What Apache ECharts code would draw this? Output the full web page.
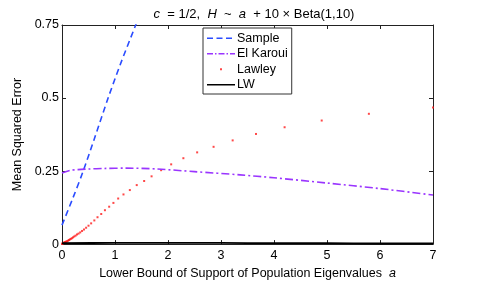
<!DOCTYPE html>
<html>
<head>
<meta charset="utf-8">
<script src="https://cdn.jsdelivr.net/npm/echarts@6/dist/echarts.min.js"></script>
<style>
html,body{margin:0;padding:0;background:#fff;}
#c{width:479px;height:285px;}
</style>
</head>
<body>
<div id="c"></div>
<script>
// ---- data ----
var xTicks = [0, 1, 2, 3, 4, 5, 6, 7];
var yTicks = [0, 0.25, 0.5, 0.75];

var sampleA = [0, 0.2, 0.4, 0.6, 0.87, 1.1, 1.39, 1.6];
var sampleV = [0.065, 0.155, 0.25, 0.355, 0.5, 0.615, 0.75, 0.85];

var elkA = [0, 0.15, 0.3, 0.5, 0.8, 1.2, 1.8, 2.5, 3.36, 4, 5, 6, 7];
var elkV = [0.243, 0.252, 0.255, 0.257, 0.259, 0.26, 0.257, 0.248, 0.237, 0.227, 0.209, 0.19, 0.168];

var lawleyA = [0, 0.01, 0.019, 0.029, 0.039, 0.05, 0.062, 0.074, 0.087, 0.101, 0.116, 0.132, 0.149, 0.167, 0.187, 0.208, 0.231, 0.256, 0.283, 0.312, 0.344, 0.378, 0.415, 0.455, 0.5, 0.55, 0.61, 0.67, 0.74, 0.81, 0.89, 0.97, 1.06, 1.16, 1.28, 1.41, 1.55, 1.69, 1.87, 2.06, 2.29, 2.55, 2.86, 3.22, 3.66, 4.2, 4.9, 5.79, 7];
var lawleyV = [0.001, 0.002, 0.003, 0.004, 0.005, 0.006, 0.007, 0.008, 0.009, 0.01, 0.012, 0.014, 0.016, 0.018, 0.02, 0.023, 0.026, 0.029, 0.033, 0.036, 0.04, 0.045, 0.05, 0.056, 0.063, 0.071, 0.081, 0.092, 0.103, 0.116, 0.128, 0.141, 0.156, 0.17, 0.185, 0.202, 0.216, 0.232, 0.253, 0.273, 0.294, 0.314, 0.333, 0.355, 0.377, 0.4, 0.423, 0.446, 0.468];

var lwA = [0, 1, 2, 3, 4, 5, 6, 7];
var lwV = [0.003, 0.004, 0.004, 0.004, 0.003, 0.003, 0.002, 0.002];

function pairs(a, v) { return a.map(function (x, i) { return [x, v[i]]; }); }

var FONT = 'Liberation Sans';
function svgIcon(inner) {
  return 'image://data:image/svg+xml;utf8,' + encodeURIComponent(
    '<svg xmlns="http://www.w3.org/2000/svg" width="28" height="10">' + inner + '</svg>');
}
var iconSample = svgIcon('<line x1="0" y1="5" x2="28" y2="5" stroke="#2a4cff" stroke-width="1.5" stroke-dasharray="6,3.5"/>');
var iconElk = svgIcon('<line x1="0" y1="5" x2="28" y2="5" stroke="#9a35ff" stroke-width="1.5" stroke-dasharray="6,2,1.5,2"/>');
var iconLawley = svgIcon('<rect x="13" y="4" width="2" height="2" fill="#ff1a1a"/>');
var iconLW = svgIcon('<line x1="0" y1="5" x2="28" y2="5" stroke="#000" stroke-width="1.6"/>');

var chart = echarts.init(document.getElementById('c'));
var axisLineStyle = { color: '#222', width: 1 };
var FS = 12.5;
chart.setOption({
  animation: false,
  backgroundColor: '#fff',
  textStyle: { fontFamily: FONT },
  title: {
    text: '{i|c}  = 1/2,  {i|H}  ~  {i|a}  + 10 × Beta(1,10)',
    left: 249, textAlign: 'center', top: 3,
    textStyle: {
      fontFamily: FONT, fontSize: 13, fontWeight: 'normal', color: '#000',
      rich: { i: { fontFamily: FONT, fontSize: 13, fontStyle: 'italic', color: '#000' } }
    }
  },
  grid: { left: 62, right: 46, top: 25, bottom: 32, containLabel: false },
  legend: {
    orient: 'vertical', left: 203, top: 28,
    padding: [3, 4, 2, 4], itemGap: 1, itemWidth: 28, itemHeight: 10,
    backgroundColor: '#fff', borderColor: '#333', borderWidth: 1, borderRadius: 0,
    textStyle: { fontFamily: FONT, fontSize: FS, color: '#000', lineHeight: 14.5, padding: [0, 0, 0, -3] },
    data: [
      { name: 'Sample', icon: iconSample },
      { name: 'El Karoui', icon: iconElk },
      { name: 'Lawley', icon: iconLawley },
      { name: 'LW', icon: iconLW }
    ]
  },
  xAxis: [{
    type: 'value', min: 0, max: 7, interval: 1, position: 'bottom',
    name: 'Lower Bound of Support of Population Eigenvalues  {i|a}',
    nameLocation: 'middle', nameGap: 19,
    nameTextStyle: { fontFamily: FONT, fontSize: FS, color: '#000',
      rich: { i: { fontFamily: FONT, fontSize: FS, fontStyle: 'italic', color: '#000' } } },
    axisLine: { show: true, onZero: false, lineStyle: axisLineStyle },
    axisTick: { show: true, inside: true, length: 4, lineStyle: axisLineStyle },
    axisLabel: { fontFamily: FONT, fontSize: FS, color: '#000', margin: 5,
      formatter: function (v) { return xTicks.indexOf(v) >= 0 ? String(v) : ''; } },
    splitLine: { show: false }
  }, {
    type: 'value', min: 0, max: 7, interval: 1, position: 'top',
    axisLine: { show: true, onZero: false, lineStyle: axisLineStyle },
    axisTick: { show: true, inside: true, length: 4, lineStyle: axisLineStyle },
    axisLabel: { show: false }, splitLine: { show: false }
  }],
  yAxis: [{
    type: 'value', min: 0, max: 0.75, interval: 0.25, position: 'left',
    name: 'Mean Squared Error', nameLocation: 'middle', nameGap: 31,
    nameTextStyle: { fontFamily: FONT, fontSize: FS, color: '#000' },
    axisLine: { show: true, onZero: false, lineStyle: axisLineStyle },
    axisTick: { show: true, inside: true, length: 4, lineStyle: axisLineStyle },
    axisLabel: { fontFamily: FONT, fontSize: FS, color: '#000', margin: 3,
      formatter: function (v) { return yTicks.indexOf(v) >= 0 ? String(v) : ''; } },
    splitLine: { show: false }
  }, {
    type: 'value', min: 0, max: 0.75, interval: 0.25, position: 'right',
    axisLine: { show: true, onZero: false, lineStyle: axisLineStyle },
    axisTick: { show: true, inside: true, length: 4, lineStyle: axisLineStyle },
    axisLabel: { show: false }, splitLine: { show: false }
  }],
  series: [{
    name: 'Sample', type: 'line', data: pairs(sampleA, sampleV),
    symbol: 'none', smooth: 0.3, clip: true,
    lineStyle: { color: '#2a4cff', width: 1.6, type: [6, 4] },
    itemStyle: { color: '#2a4cff' }
  }, {
    name: 'El Karoui', type: 'line', data: pairs(elkA, elkV),
    symbol: 'none', smooth: 0.3, clip: true,
    lineStyle: { color: '#9a35ff', width: 1.6, type: [8, 3, 2, 3] },
    itemStyle: { color: '#9a35ff' }
  }, {
    name: 'Lawley', type: 'scatter', data: pairs(lawleyA, lawleyV),
    symbol: 'rect', symbolSize: 2, clip: true,
    itemStyle: { color: '#ff1a1a' }
  }, {
    name: 'LW', type: 'line', data: pairs(lwA, lwV),
    symbol: 'none', smooth: 0.3, clip: true,
    lineStyle: { color: '#000', width: 1.8 },
    itemStyle: { color: '#000' }
  }]
});
</script>
</body>
</html>
